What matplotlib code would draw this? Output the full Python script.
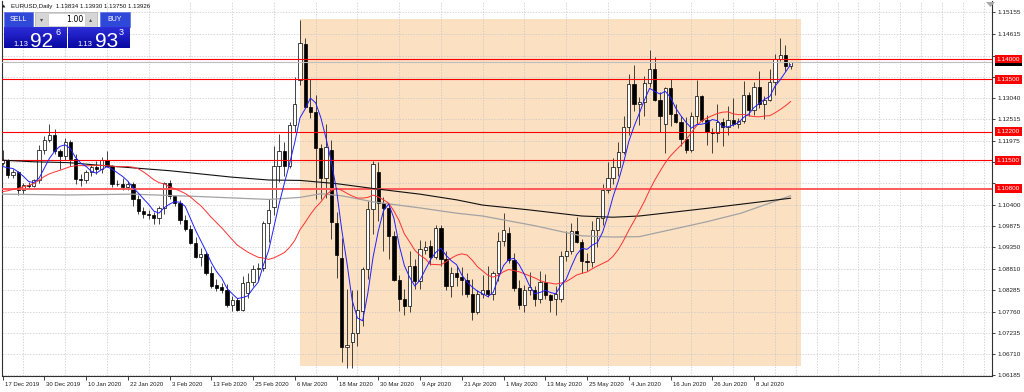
import numpy as np
import pandas as pd
import matplotlib
matplotlib.use('Agg')
import matplotlib.pyplot as plt
from matplotlib.patches import Rectangle, Polygon
import matplotlib.transforms as mtransforms

plt.rcParams['font.family'] = ['Liberation Sans', 'DejaVu Sans']

# ---------------- data (EURUSD daily, 17 Dec 2019 .. 17 Jul 2020) ----------------
opens = [1.1143, 1.1150, 1.1113, 1.1122, 1.1077, 1.1089, 1.1085, 1.1100, 1.1176, 1.1200,
         1.1213, 1.1172, 1.1160, 1.1195, 1.1152, 1.1104, 1.1102, 1.1121, 1.1134, 1.1128,
         1.1150, 1.1136, 1.1092, 1.1090, 1.1083, 1.1092, 1.1055, 1.1025, 1.1018, 1.1014,
         1.1008, 1.1031, 1.1093, 1.1061, 1.1044, 1.1001, 1.0981, 1.0945, 1.0911, 1.0917,
         1.0872, 1.0841, 1.0836, 1.0830, 1.0791, 1.0805, 1.0780, 1.0821, 1.0850, 1.0880,
         1.0883, 1.0995, 1.1035, 1.1135, 1.1172, 1.1135, 1.1238, 1.1348, 1.1436, 1.1282,
         1.1268, 1.1180, 1.1105, 1.1175, 1.0994, 1.0908, 1.0689, 1.0700, 1.0722, 1.0778,
         1.0880, 1.1030, 1.1122, 1.1043, 1.1033, 1.0962, 1.0855, 1.0806, 1.0790, 1.0889,
         1.0852, 1.0927, 1.0938, 1.0910, 1.0982, 1.0905, 1.0840, 1.0870, 1.0862, 1.0855,
         1.0820, 1.0775, 1.0820, 1.0829, 1.0820, 1.0871, 1.0950, 1.0970, 1.0904, 1.0834,
         1.0792, 1.0830, 1.0830, 1.0808, 1.0850, 1.0817, 1.0806, 1.0806, 1.0912, 1.0925,
         1.0976, 1.0947, 1.0902, 1.0898, 1.0978, 1.1008, 1.1076, 1.1105, 1.1134, 1.1170,
         1.1233, 1.1338, 1.1290, 1.1294, 1.1340, 1.1376, 1.1299, 1.1240, 1.1328, 1.1264,
         1.1245, 1.1203, 1.1176, 1.1258, 1.1308, 1.1250, 1.1219, 1.1217, 1.1244, 1.1233,
         1.1250, 1.1240, 1.1246, 1.1310, 1.1274, 1.1331, 1.1289, 1.1298, 1.1343, 1.1401,
         1.1411, 1.13834]
highs = [1.1175, 1.1153, 1.1127, 1.1123, 1.1093, 1.1097, 1.1103, 1.1188, 1.1209, 1.1239,
         1.1228, 1.1177, 1.1206, 1.1199, 1.1166, 1.1117, 1.1125, 1.1138, 1.1147, 1.1157,
         1.1173, 1.1139, 1.1100, 1.1107, 1.1098, 1.1097, 1.1063, 1.1034, 1.1027, 1.1023,
         1.1037, 1.1096, 1.1100, 1.1062, 1.1052, 1.1015, 1.0991, 1.0960, 1.0933, 1.0923,
         1.0889, 1.0856, 1.0846, 1.0844, 1.0814, 1.0809, 1.0863, 1.0872, 1.0891, 1.0897,
         1.1000, 1.1054, 1.1185, 1.1214, 1.1196, 1.1245, 1.1355, 1.1497, 1.1452, 1.1350,
         1.1311, 1.1190, 1.1240, 1.1201, 1.1022, 1.0957, 1.0831, 1.0828, 1.0830, 1.0886,
         1.1050, 1.1148, 1.1145, 1.1058, 1.1040, 1.0975, 1.0867, 1.0832, 1.0926, 1.0906,
         1.0952, 1.0950, 1.0953, 1.0990, 1.0990, 1.0926, 1.0887, 1.0888, 1.0886, 1.0870,
         1.0856, 1.0829, 1.0866, 1.0889, 1.0876, 1.0973, 1.1019, 1.0984, 1.0920, 1.0853,
         1.0841, 1.0874, 1.0838, 1.0877, 1.0869, 1.0820, 1.0838, 1.0926, 1.0975, 1.0995,
         1.1009, 1.0955, 1.0921, 1.1000, 1.1009, 1.1092, 1.1146, 1.1155, 1.1196, 1.1258,
         1.1362, 1.1384, 1.1305, 1.1358, 1.1422, 1.1406, 1.1318, 1.1330, 1.1350, 1.1290,
         1.1259, 1.1257, 1.1270, 1.1349, 1.1310, 1.1262, 1.1229, 1.1289, 1.1255, 1.1285,
         1.1303, 1.1255, 1.1345, 1.1319, 1.1343, 1.1371, 1.1309, 1.1375, 1.1412, 1.1452,
         1.1434, 1.13930]
lows = [1.1138, 1.1107, 1.1105, 1.1064, 1.1066, 1.1080, 1.1083, 1.1094, 1.1166, 1.1196,
        1.1165, 1.1128, 1.1150, 1.1135, 1.1092, 1.1086, 1.1093, 1.1111, 1.1116, 1.1118,
        1.1134, 1.1084, 1.1085, 1.1077, 1.1076, 1.1036, 1.1018, 1.1008, 1.1005, 1.0992,
        1.0992, 1.1018, 1.1055, 1.1036, 1.0993, 1.0975, 1.0942, 1.0908, 1.0888, 1.0867,
        1.0835, 1.0827, 1.0822, 1.0786, 1.0778, 1.0778, 1.0777, 1.0810, 1.0838, 1.0851,
        1.0875, 1.0948, 1.1015, 1.1095, 1.1112, 1.1131, 1.1220, 1.1336, 1.1280, 1.1254,
        1.1055, 1.1054, 1.1056, 1.0955, 1.0858, 1.0652, 1.0636, 1.0636, 1.0690, 1.0740,
        1.0857, 1.0967, 1.1000, 1.0925, 1.0905, 1.0852, 1.0778, 1.0768, 1.0775, 1.0831,
        1.0832, 1.0918, 1.0890, 1.0905, 1.0889, 1.0830, 1.0812, 1.0840, 1.0816, 1.0812,
        1.0756, 1.0769, 1.0810, 1.0812, 1.0805, 1.0851, 1.0937, 1.0895, 1.0826, 1.0782,
        1.0774, 1.0816, 1.0789, 1.0796, 1.0806, 1.0774, 1.0768, 1.0800, 1.0902, 1.0918,
        1.0945, 1.0870, 1.0876, 1.0887, 1.0935, 1.0990, 1.1068, 1.1092, 1.1111, 1.1166,
        1.1211, 1.1271, 1.1238, 1.1259, 1.1330, 1.1297, 1.1220, 1.1168, 1.1234, 1.1241,
        1.1184, 1.1168, 1.1170, 1.1240, 1.1244, 1.1188, 1.1168, 1.1194, 1.1185, 1.1211,
        1.1235, 1.1229, 1.1241, 1.1260, 1.1261, 1.1280, 1.1252, 1.1296, 1.1310, 1.1395,
        1.1371, 1.13750]
closes = [1.1150, 1.1113, 1.1122, 1.1077, 1.1089, 1.1085, 1.1100, 1.1176, 1.1200, 1.1213,
          1.1172, 1.1160, 1.1195, 1.1152, 1.1104, 1.1102, 1.1121, 1.1134, 1.1128, 1.1150,
          1.1136, 1.1091, 1.1090, 1.1083, 1.1092, 1.1055, 1.1025, 1.1018, 1.1014, 1.1008,
          1.1031, 1.1093, 1.1061, 1.1044, 1.1001, 1.0981, 1.0945, 1.0911, 1.0917, 1.0872,
          1.0840, 1.0834, 1.0830, 1.0791, 1.0805, 1.0780, 1.0847, 1.0850, 1.0882, 1.0883,
          1.0995, 1.1026, 1.1135, 1.1172, 1.1135, 1.1238, 1.1290, 1.1439, 1.1282, 1.1268,
          1.1180, 1.1105, 1.1183, 1.0998, 1.0915, 1.0689, 1.0694, 1.0722, 1.0780, 1.0880,
          1.1030, 1.1140, 1.1043, 1.1033, 1.0962, 1.0855, 1.0808, 1.0790, 1.0889, 1.0852,
          1.0930, 1.0936, 1.0910, 1.0982, 1.0905, 1.0840, 1.0870, 1.0862, 1.0855, 1.0820,
          1.0775, 1.0820, 1.0829, 1.0820, 1.0871, 1.0950, 1.0978, 1.0904, 1.0834, 1.0792,
          1.0830, 1.0836, 1.0808, 1.0850, 1.0817, 1.0804, 1.0820, 1.0912, 1.0925, 1.0976,
          1.0947, 1.0902, 1.0898, 1.0978, 1.1008, 1.1076, 1.1105, 1.1134, 1.1170, 1.1233,
          1.1338, 1.1290, 1.1294, 1.1340, 1.1376, 1.1299, 1.1258, 1.1328, 1.1264, 1.1245,
          1.1203, 1.1176, 1.1258, 1.1308, 1.1250, 1.1219, 1.1217, 1.1244, 1.1233, 1.1250,
          1.1240, 1.1246, 1.1310, 1.1274, 1.1331, 1.1289, 1.1298, 1.1343, 1.1401, 1.1411,
          1.1383, 1.13926]
# closes of the 19 sessions before the first visible bar (feed the moving averages)
prior_closes = [1.1074, 1.1057, 1.1020, 1.1011, 1.1021, 1.1010, 1.1008, 1.1017, 1.1078, 1.1081,
                1.1079, 1.1104, 1.1059, 1.1065, 1.1092, 1.1129, 1.1131, 1.1119, 1.1143]

# slow moving averages (bar index, value)
ma_black_idx = [0, 6, 12.5, 19, 25, 32, 38, 44, 51, 57, 64, 71, 80, 87, 92, 101, 111, 117, 122, 135, 151]
ma_black_val = [1.1150, 1.1146, 1.1144, 1.1137, 1.1131, 1.1124, 1.1116, 1.1108, 1.1101, 1.1100,
                1.1092, 1.1080, 1.1066, 1.1052, 1.1039, 1.1027, 1.1012, 1.1009, 1.1012, 1.1031, 1.1056]
ma_gray_idx = [0, 12.5, 25, 38, 51, 57, 61, 65, 71, 80, 87, 92, 102, 108, 111, 117, 122, 128, 135, 141.5, 151]
ma_gray_val = [1.1066, 1.1064, 1.1066, 1.1060, 1.1053, 1.1058, 1.1067, 1.1062, 1.1047, 1.1032,
               1.1019, 1.1012, 1.0988, 1.0971, 1.0963, 1.0960, 1.0961, 1.0978, 1.0998, 1.1019, 1.1062]

date_labels = ['17 Dec 2019', '30 Dec 2019', '10 Jan 2020', '22 Jan 2020', '3 Feb 2020',
               '13 Feb 2020', '25 Feb 2020', '6 Mar 2020', '18 Mar 2020', '30 Mar 2020',
               '9 Apr 2020', '21 Apr 2020', '1 May 2020', '13 May 2020', '25 May 2020',
               '4 Jun 2020', '16 Jun 2020', '26 Jun 2020', '8 Jul 2020']
price_ticks = [1.15155, 1.14615, 1.14080, 1.13555, 1.13040, 1.12515, 1.11975, 1.11450, 1.10925,
               1.10400, 1.09875, 1.09350, 1.08810, 1.08285, 1.07760, 1.07235, 1.06710, 1.06185]
# grid levels whose scale labels are hidden under the level tags
hidden_ticks = [1.14080, 1.13555, 1.11450, 1.10925]
level_prices = [1.14000, 1.13500, 1.12200, 1.11500, 1.10800]
bid_price = 1.13926
zone_start, zone_end = 57, 153
zone_low, zone_high = 1.0641, 1.1499
header_text = 'EURUSD,Daily  1.13834 1.13930 1.13750 1.13926'

# ---------------- figure ----------------
W, H = 1024, 392
fig = plt.figure(figsize=(W / 100, H / 100), dpi=100, facecolor='white')
ax = fig.add_axes([2 / W, 16 / H, 990 / W, 375 / H])
ax.set_facecolor('white')
ax.set_xlim(-0.1, 189.6)
ax.set_ylim(1.06166, 1.15434)

# highlighted zone
ax.add_patch(Rectangle((zone_start, zone_low), zone_end - zone_start, zone_high - zone_low,
                       facecolor='#FBE0C2', edgecolor='none', zorder=0.2))

# grid
ax.set_axisbelow(True)
ax.set_xticks(np.arange(0, 190, 4), minor=True)
ax.set_xticks(np.arange(len(date_labels)) * 8)
ax.set_xticklabels(date_labels)
ax.yaxis.tick_right()
ax.set_yticks(price_ticks)
ax.set_yticklabels(['' if v in hidden_ticks else f'{v:.5f}' for v in price_ticks])
gstyle = dict(color='#C6C6C6', linewidth=0.5, linestyle=(0, (2, 2)))
ax.grid(True, which='major', axis='y', **gstyle)
ax.grid(True, which='minor', axis='x', **gstyle)
ax.tick_params(axis='x', which='minor', length=0)
ax.tick_params(axis='x', which='major', length=3, width=0.6, pad=1.0, labelsize=4.3, colors='#202020')
ax.tick_params(axis='y', length=2.5, width=0.6, pad=1.5, labelsize=4.6, colors='#202020')
offset = mtransforms.ScaledTranslation(1.5 / 72, 0, fig.dpi_scale_trans)
for lab in ax.get_xticklabels():
    lab.set_horizontalalignment('left')
    lab.set_transform(lab.get_transform() + offset)

for s in ['left', 'right', 'bottom']:
    ax.spines[s].set_color('#303030')
    ax.spines[s].set_linewidth(0.8)
ax.spines['top'].set_visible(False)

# candles
idx = np.arange(len(closes))
o = np.array(opens); h = np.array(highs); l = np.array(lows); c = np.array(closes)
up = c >= o
ax.vlines(idx, l, h, color='#262626', linewidth=0.6, zorder=3)
bb = np.minimum(o, c)
bh = np.maximum(np.abs(c - o), 0.00004)
ax.bar(idx[up], bh[up], bottom=bb[up], width=0.62, color='white', edgecolor='black',
       linewidth=0.5, zorder=3.1)
ax.bar(idx[~up], bh[~up], bottom=bb[~up], width=0.62, color='black', edgecolor='black',
       linewidth=0.5, zorder=3.1)

# horizontal levels
for p in level_prices:
    if abs(p - 1.108) < 1e-9:
        ax.axhline(p, color='#FF5A5A', linewidth=1.4, zorder=3.5)
    else:
        ax.axhline(p, color='#FF0000', linewidth=0.8, zorder=3.5)
ax.axhline(bid_price, color='#BDBDBD', linewidth=0.8, zorder=3.4)

# moving averages
allc = pd.Series(prior_closes + closes)
sma5 = allc.rolling(5).mean().iloc[len(prior_closes):].values
sma20 = allc.rolling(20).mean().iloc[len(prior_closes):].values
ax.plot(ma_gray_idx, ma_gray_val, color='#A3A3A3', linewidth=0.9, zorder=4)
ax.plot(ma_black_idx, ma_black_val, color='#111111', linewidth=0.8, zorder=4)
ax.plot(idx, sma20, color='#FF3030', linewidth=0.7, zorder=4.1)
ax.plot(idx, sma5, color='#2020FF', linewidth=0.7, zorder=4.2)

# price tags on the right
btr = mtransforms.blended_transform_factory(ax.transAxes, ax.transData)
ax.add_patch(Rectangle((1.0027, bid_price - 0.0011), 0.0272, 0.0022, transform=btr,
                       fc='black', ec='none', clip_on=False, zorder=5))
for p in level_prices:
    ax.text(1.0045, p, f'{p:.5f}', transform=btr, ha='left', va='center',
            fontsize=4.6, color='white', clip_on=False, zorder=6,
            bbox=dict(boxstyle='square,pad=0.3', fc='#FF0000', ec='none'))

# ---------------- overlay (pixel coordinates) ----------------
ov = fig.add_axes([0, 0, 1, 1], zorder=10)
ov.set_xlim(0, W); ov.set_ylim(H, 0); ov.axis('off'); ov.patch.set_alpha(0)

ov.text(4, 6.5, '▲', fontsize=3.2, ha='center', va='center', color='#202020', family='DejaVu Sans')
ov.text(11, 6.5, header_text, fontsize=4.4, ha='left', va='center', color='#101010')
ov.add_patch(Polygon([[986, 2], [995, 2], [990.5, 7]], closed=True, fc='#A8A8A8', ec='none'))

# one-click trading panel
top_blue = '#3048D8'
for x0, x1, lab in [(4, 33, 'SELL'), (100, 130, 'BUY')]:
    ov.add_patch(Rectangle((x0, 12), x1 - x0, 15, fc=top_blue, ec='#5A6EE8', lw=0.5))
    ov.text((x0 + x1) / 2, 19.8, lab, fontsize=5, color='white', ha='center', va='center')
ov.add_patch(Rectangle((35, 12), 62, 15, fc='#D6D6D6', ec='#B0B0B0', lw=0.5))
ov.add_patch(Rectangle((48, 13), 37, 13, fc='white', ec='#C0C0C0', lw=0.4))
ov.text(41.5, 19.5, '▾', fontsize=4.5, color='#505050', ha='center', va='center', family='DejaVu Sans')
ov.text(91, 19.5, '▴', fontsize=4.5, color='#505050', ha='center', va='center', family='DejaVu Sans')
ov.text(83, 19.8, '1.00', fontsize=5.6, color='black', ha='right', va='center', family='DejaVu Sans')

c_top = np.array([0x2C, 0x2C, 0xD8]) / 255
c_bot = np.array([0x08, 0x08, 0xA2]) / 255
n = 21
for k in range(n):
    t = k / (n - 1)
    col = c_top * (1 - t) + c_bot * t
    for x0, x1 in [(4, 67), (68, 130)]:
        ov.add_patch(Rectangle((x0, 27 + k), x1 - x0, 1.05, fc=col, ec='none'))

for xs, big, small in [((13, 30, 55), '92', '6'), ((77, 95, 119), '93', '3')]:
    ov.text(xs[0], 45.5, '1.13', fontsize=5.5, color='white', ha='left', va='baseline')
    ov.text(xs[1], 46.5, big, fontsize=15, color='white', ha='left', va='baseline')
    ov.text(xs[2], 34.5, small, fontsize=6.5, color='white', ha='left', va='baseline')

fig.savefig('out.png', dpi=100, facecolor='white')
